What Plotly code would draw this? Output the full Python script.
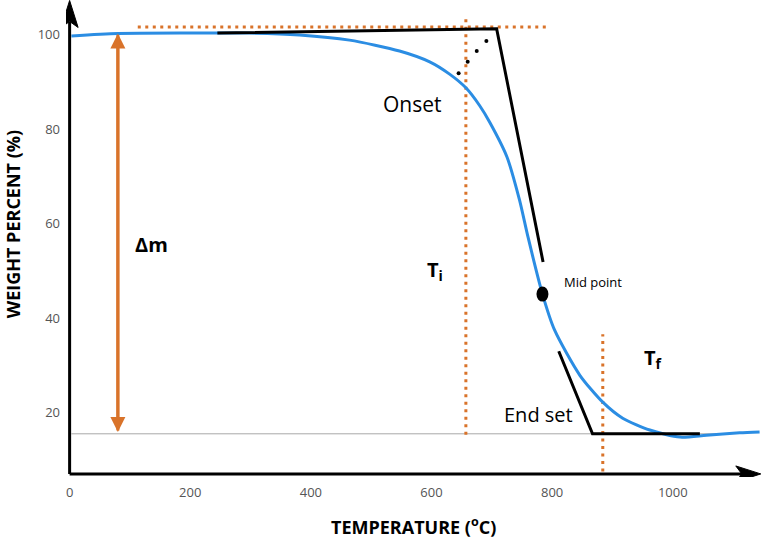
import plotly.graph_objects as go

# Thermogravimetric curve: temperature (°C) vs remaining weight (%)
temp = [3, 80, 200, 298, 381, 464, 547, 597, 630, 657, 680, 697, 725, 746, 760,
        784, 804, 846, 884, 917, 962, 1012, 1056, 1111, 1144]
weight = [99.8, 100.3, 100.4, 100.4, 100.0, 98.9, 96.6, 94.3, 91.7, 88.8, 85.0, 81.4, 74.2, 65.0, 57.2,
          45.1, 37.5, 27.9, 22.2, 18.8, 16.3, 14.8, 15.2, 15.7, 15.9]

# Construction lines
onset_tangent_x = [245, 708, 785]
onset_tangent_y = [100.4, 101.3, 51.9]
onset_dots_x = [645, 660, 675, 691]
onset_dots_y = [91.9, 94.3, 96.6, 98.7]
endset_tangent_x = [811, 867, 1045]
endset_tangent_y = [33.0, 15.5, 15.5]

initial_level = 101.7
initial_level_x = [113, 791]
residue_level = 15.5
residue_level_x = [3, 1075]

t_initial = 657
t_initial_y = [15.3, 103.7]
t_final = 884
t_final_y = [7.5, 36.6]

mid_point = (784, 45.1)
delta_m_x = 80
delta_m_y = [15.9, 100.3]

x_ticks = [0, 200, 400, 600, 800, 1000]
y_ticks = [20, 40, 60, 80, 100]

BLUE = "#2b8de3"
ORANGE = "#d9732a"
FONT = "Open Sans"

fig = go.Figure()

# baseline of residue
fig.add_trace(go.Scatter(x=residue_level_x, y=[residue_level] * 2, mode="lines",
                         line=dict(color="#a8a8a8", width=1), hoverinfo="skip"))
# initial level
fig.add_trace(go.Scatter(x=initial_level_x, y=[initial_level] * 2, mode="lines",
                         line=dict(color=ORANGE, width=3, dash="3px,4.5px"), hoverinfo="skip"))
# Ti and Tf markers
fig.add_trace(go.Scatter(x=[t_initial] * 2, y=t_initial_y, mode="lines",
                         line=dict(color=ORANGE, width=3, dash="3px,4.5px"), hoverinfo="skip"))
fig.add_trace(go.Scatter(x=[t_final] * 2, y=t_final_y, mode="lines",
                         line=dict(color=ORANGE, width=3, dash="3px,4.5px"), hoverinfo="skip"))

# weight curve
fig.add_trace(go.Scatter(x=temp, y=weight, mode="lines",
                         line=dict(color=BLUE, width=3, shape="spline", smoothing=0.7)))

# tangents
fig.add_trace(go.Scatter(x=onset_tangent_x, y=onset_tangent_y, mode="lines",
                         line=dict(color="black", width=3), hoverinfo="skip"))
fig.add_trace(go.Scatter(x=endset_tangent_x, y=endset_tangent_y, mode="lines",
                         line=dict(color="black", width=3), hoverinfo="skip"))
fig.add_trace(go.Scatter(x=onset_dots_x, y=onset_dots_y, mode="markers",
                         marker=dict(color="black", size=4), hoverinfo="skip"))

shapes = []
# axis lines with arrowheads
shapes.append(dict(type="line", xref="x", yref="y", x0=0, x1=1120, y0=7, y1=7,
                   line=dict(color="black", width=3)))
shapes.append(dict(type="line", xref="x", yref="y", x0=0, x1=0, y0=7, y1=102.8,
                   line=dict(color="black", width=3)))
shapes.append(dict(type="path", xref="x", yref="y", xsizemode="pixel", ysizemode="pixel",
                   xanchor=1146, yanchor=7, path="M0,0 L-25,8 L-19,0 L-25,-8 Z",
                   fillcolor="black", line=dict(color="black", width=1)))
shapes.append(dict(type="path", xref="x", yref="y", xsizemode="pixel", ysizemode="pixel",
                   xanchor=0, yanchor=107.3, path="M0,0 L8.5,-27 L0,-21 L-8.5,-27 Z",
                   fillcolor="black", line=dict(color="black", width=1)))
# mid point
shapes.append(dict(type="circle", xref="x", yref="y", xsizemode="pixel", ysizemode="pixel",
                   xanchor=mid_point[0], yanchor=mid_point[1], x0=-6, x1=6, y0=-7.5, y1=7.5,
                   fillcolor="black", line=dict(color="black", width=0)))

annotations = []
# Δm double arrow: each arrow runs the full span, head at its own end
for tip, tail in [(delta_m_y[1], delta_m_y[0]), (delta_m_y[0], delta_m_y[1])]:
    annotations.append(dict(x=delta_m_x, y=tip, ax=delta_m_x, ay=tail, xref="x", yref="y",
                            axref="x", ayref="y", text="", showarrow=True, arrowhead=2,
                            arrowsize=1, arrowwidth=3, arrowcolor=ORANGE, standoff=0,
                            startstandoff=0))

def label(text, x, y, size, weight=400, xanchor="center", yanchor="middle"):
    annotations.append(dict(x=x, y=y, xref="x", yref="y", text=text, showarrow=False,
                            xanchor=xanchor, yanchor=yanchor,
                            font=dict(family=FONT, size=size, color="black", weight=weight)))

label("Onset", 569, 85.4, 21, 500)
label("Δm", 136, 55.7, 20, 700)
label("T<sub>i</sub>", 590, 50.0, 20, 700, xanchor="left")
label("Mid point", 867, 47.7, 13, 400)
label("T<sub>f</sub>", 949, 31.5, 20, 700, xanchor="left")
label("End set", 777, 19.5, 20, 500)

# axis titles
annotations.append(dict(x=0.4986, y=-0.1027, xref="paper", yref="paper", showarrow=False,
                        text="TEMPERATURE (<sup>o</sup>C)", xanchor="center", yanchor="middle",
                        font=dict(family=FONT, size=18, color="black", weight=700)))
annotations.append(dict(x=-0.0761, y=0.530, xref="paper", yref="paper", showarrow=False,
                        text="WEIGHT PERCENT (%)", textangle=-90, xanchor="center",
                        yanchor="middle",
                        font=dict(family=FONT, size=18, color="black", weight=700)))

fig.update_layout(
    width=763, height=542,
    margin=dict(l=66, r=1, t=0, b=65),
    paper_bgcolor="white", plot_bgcolor="white",
    showlegend=False,
    shapes=shapes, annotations=annotations,
    xaxis=dict(range=[-6, 1148], tickvals=x_ticks, showgrid=False, zeroline=False,
               showline=False, ticks="", ticklabelstandoff=6,
               tickfont=dict(family=FONT, size=13, color="#555555")),
    yaxis=dict(range=[6.35, 107.4], tickvals=y_ticks, showgrid=False, zeroline=False,
               showline=False, ticks="", ticklabelstandoff=5,
               tickfont=dict(family=FONT, size=13, color="#555555")),
)

fig.write_html("out.html")
